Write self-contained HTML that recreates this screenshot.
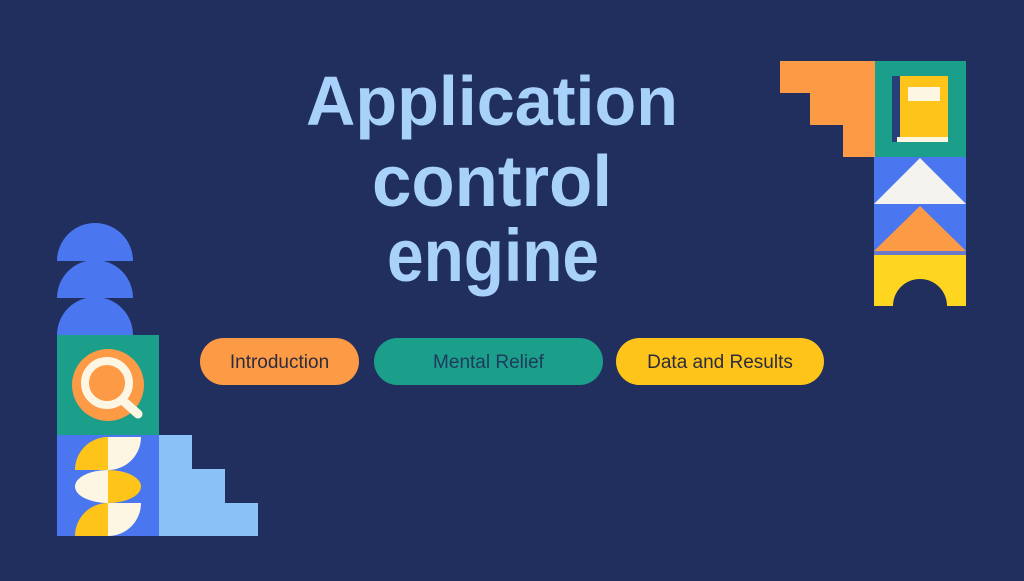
<!DOCTYPE html>
<html><head><meta charset="utf-8"><style>
html,body{margin:0;padding:0;background:#202f5e;}
body{width:1024px;height:576px;overflow:hidden;}
</style></head><body>
<svg width="1024" height="576" viewBox="0 0 1024 576" xmlns="http://www.w3.org/2000/svg">
<rect width="1024" height="576" fill="#202f5e"/>
<g font-family="Liberation Sans, sans-serif" font-weight="bold" fill="#a9d2fb" text-anchor="middle">
<text x="492" y="125" font-size="70" textLength="372" lengthAdjust="spacingAndGlyphs">Application</text>
<text x="492" y="206" font-size="72" textLength="240" lengthAdjust="spacingAndGlyphs">control</text>
<text x="493" y="281" font-size="74" textLength="212" lengthAdjust="spacingAndGlyphs">engine</text>
</g>
<g font-family="Liberation Sans, sans-serif" font-size="19" text-anchor="middle">
<rect x="200" y="338" width="159" height="47" rx="23.5" fill="#fd9a45"/>
<text x="279.5" y="368" fill="#2b2d3d">Introduction</text>
<rect x="374" y="338" width="229" height="47" rx="23.5" fill="#1b9e8a"/>
<text x="488.5" y="368" fill="#1f3a5c">Mental Relief</text>
<rect x="616" y="338" width="208" height="47" rx="23.5" fill="#fec41a"/>
<text x="720" y="368" fill="#2b2d3d">Data and Results</text>
</g>
<!-- right group -->
<polygon points="780,61 875,61 875,157 843,157 843,125 810,125 810,93 780,93" fill="#fd9a45"/>
<rect x="875" y="61" width="91" height="96" fill="#1b9e8a"/>
<rect x="892" y="76" width="10" height="66" fill="#27407a"/>
<rect x="900" y="76" width="48" height="66" fill="#fec41a"/>
<rect x="908" y="87" width="32" height="14" fill="#fdf6e3"/>
<rect x="897" y="137" width="51" height="5" fill="#fdf6e3"/>
<rect x="874" y="157" width="92" height="48" fill="#4a76ef"/>
<polygon points="920,158 966,204 874,204" fill="#f5f3ee"/>
<rect x="874" y="205" width="92" height="50" fill="#4a76ef"/>
<polygon points="920,206 966,251 874,251" fill="#fd9a45"/>
<rect x="874" y="251" width="92" height="4" fill="#6a78c8"/>
<rect x="874" y="255" width="92" height="51" fill="#fed51f"/>
<path d="M893,306 A27,27 0 0 1 947,306 Z" fill="#202f5e"/>
<!-- left group -->
<path d="M57,261 A38,38 0 0 1 133,261 Z" fill="#4a76ef"/>
<path d="M57,298 A38,38 0 0 1 133,298 Z" fill="#4a76ef"/>
<path d="M57,335 A38,38 0 0 1 133,335 Z" fill="#4a76ef"/>
<rect x="57" y="335" width="102" height="100" fill="#1b9e8a"/>
<circle cx="108" cy="385" r="36" fill="#fd9a45"/>
<line x1="120" y1="398" x2="138" y2="414" stroke="#fdf6e3" stroke-width="9" stroke-linecap="round"/>
<circle cx="107" cy="383" r="22" fill="#fd9a45" stroke="#fdf6e3" stroke-width="8"/>
<rect x="57" y="435" width="102" height="101" fill="#4a76ef"/>
<!-- row1 -->
<path d="M108,437 L108,470 L75,470 A33,33 0 0 1 108,437 Z" fill="#fec41a"/>
<path d="M108,437 L141,437 A33,33 0 0 1 108,470 Z" fill="#fdf6e3"/>
<!-- row2 -->
<path d="M108,470 L108,503 A33,16.5 0 0 1 108,470 Z" fill="#fdf6e3"/>
<path d="M108,470 A33,16.5 0 0 1 108,503 Z" fill="#fec41a"/>
<!-- row3 -->
<path d="M108,503 L108,536 L75,536 A33,33 0 0 1 108,503 Z" fill="#fec41a"/>
<path d="M108,503 L141,503 A33,33 0 0 1 108,536 Z" fill="#fdf6e3"/>
<polygon points="159,435 192,435 192,469 225,469 225,503 258,503 258,536 159,536" fill="#8ac2f8"/>
</svg>
</body></html>
